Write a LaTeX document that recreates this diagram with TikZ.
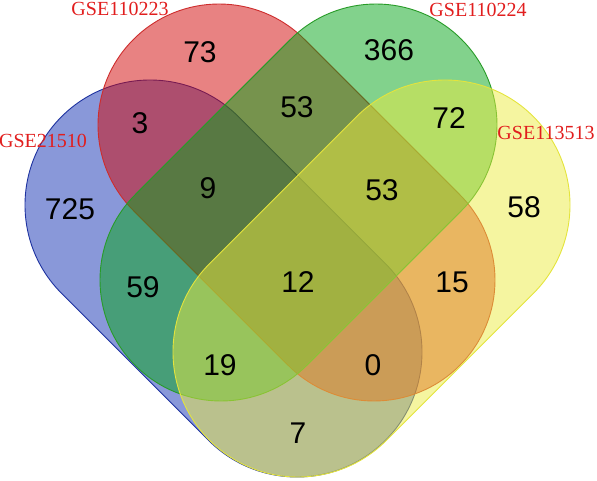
\documentclass[tikz,border=0pt]{standalone}
\usepackage{fontspec}
\setmainfont{Liberation Sans}
\newfontfamily\setnamefont{Liberation Serif}
\usepackage{tikz}
\usetikzlibrary{positioning}

\definecolor{fillblue}{RGB}{20,50,180}
\definecolor{fillred}{RGB}{210,5,5}
\definecolor{fillgreen}{RGB}{5,165,25}
\definecolor{fillyellow}{RGB}{235,235,65}
\definecolor{lineblue}{RGB}{30,50,160}
\definecolor{linered}{RGB}{205,45,45}
\definecolor{linegreen}{RGB}{40,155,40}
\definecolor{lineyellow}{RGB}{228,228,60}
\definecolor{namered}{RGB}{225,30,30}

\tikzset{
  setshape/.style={fill opacity=0.5, line width=0.9pt},
  count/.style={font=\fontsize{30}{32}\selectfont, text=black, inner sep=0pt},
  setname/.style={font=\setnamefont\fontsize{20}{22}\selectfont, text=namered, inner sep=0pt}
}

\begin{document}
\begin{tikzpicture}[x=1pt, y=1pt]
  \useasboundingbox (0,0) rectangle (597,480);

  % Sets: back end centre / start angle / offset to front end / radius
  \foreach \x/\y/\a/\dx/\dy/\r/\fc/\lc in {
    150/275/45/147/-147/125/fillblue/lineblue,
    219/355/45/155/-155/121/fillred/linered,
    376/355/-45/-155/-155/121/fillgreen/linegreen,
    445/275/-45/-147/-147/125/fillyellow/lineyellow}{
    \draw[setshape, fill=\fc, draw=\lc] (\x,\y) ++(\a:\r)
      arc[start angle=\a, delta angle=180, radius=\r] -- ++(\dx,\dy)
      arc[start angle=\a+180, delta angle=180, radius=\r] -- cycle;
  }

  % Set names
  \node[setname] (nameA) at (43,339) {GSE21510};
  \node[setname] (nameB) at (120,471) {GSE110223};
  \node[setname] (nameC) at (478,470) {GSE110224};
  \node[setname] (nameD) at (546,347) {GSE113513};

  % Region counts
  \foreach \nm/\x/\y/\val in {
    A/70/271/725, B/200/428/73, C/389/430/366, D/524/273/58,
    AB/140/357/3, BC/297/373/53, CD/449/362/72, AC/143/193/59,
    BD/452/198/15, AD/298/47/7, ABC/208/292/9, BCD/382/290/53,
    ACD/220/115/19, ABD/373/115/0, ABCD/298/198/12}{
    \node[count] (\nm) at (\x,\y) {\val};
  }

\end{tikzpicture}
\end{document}
